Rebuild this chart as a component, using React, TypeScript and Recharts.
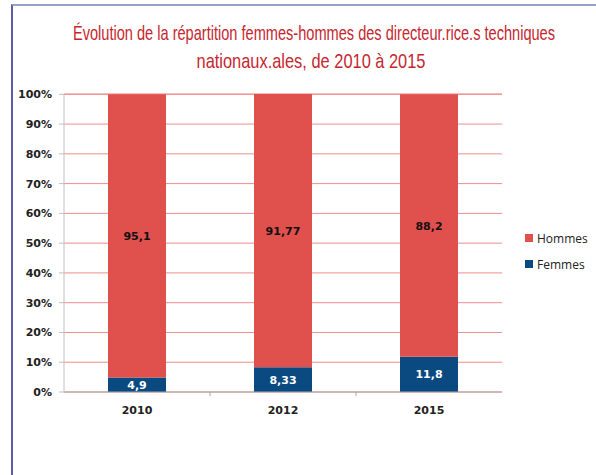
import React from "react";
import {
  BarChart,
  Bar,
  XAxis,
  YAxis,
  CartesianGrid,
  LabelList,
} from "recharts";

const YEARS = ["2010", "2012", "2015"];
const FEMMES = [4.9, 8.33, 11.8];
const HOMMES = [95.1, 91.77, 88.2];
const Y_TICKS = [0, 10, 20, 30, 40, 50, 60, 70, 80, 90, 100];
const TITLE = [
  "Évolution de la répartition femmes-hommes des directeur.rice.s techniques",
  "nationaux.ales, de 2010 à 2015",
];

const RED = "#e0504c";
const BLUE = "#0b4a80";

const data = YEARS.map((year, i) => ({
  year,
  femmes: FEMMES[i],
  hommes: HOMMES[i],
}));

const LEGEND = [
  { name: "Hommes", colour: RED },
  { name: "Femmes", colour: BLUE },
];

const fmt = (v: number) => String(v).replace(".", ",");

function makeLabel(colour: string) {
  return (props: any) => {
    const { x, y, width, height, value } = props;
    return (
      <text
        x={x + width / 2}
        y={y + height / 2}
        dy={4}
        textAnchor="middle"
        fontFamily="DejaVu Sans"
        fontWeight="bold"
        fontSize={11}
        fill={colour}
      >
        {fmt(value)}
      </text>
    );
  };
}

// category labels plus the small boundary ticks between categories
function YearTick(props: any) {
  const { x, y, payload, index } = props;
  const half = 73;
  return (
    <g>
      {index < YEARS.length - 1 && (
        <line x1={x + half} x2={x + half} y1={y - 8} y2={y - 4} stroke="#a6a6a6" />
      )}
      <text
        x={x}
        y={y + 14}
        textAnchor="middle"
        fontFamily="DejaVu Sans"
        fontWeight="bold"
        fontSize={11}
        fill="#222"
      >
        {payload.value}
      </text>
    </g>
  );
}

export default function App() {
  return (
    <div
      style={{
        position: "absolute",
        left: 0,
        top: 0,
        width: 596,
        height: 475,
        background: "#fff",
        overflow: "hidden",
      }}
    >
      <div
        style={{
          position: "absolute",
          left: 11,
          top: 4,
          right: -2,
          bottom: -2,
          borderTop: "2px solid #9c9fc6",
          borderLeft: "2px solid #5a5fa8",
        }}
      />
      <svg
        width={596}
        height={80}
        style={{ position: "absolute", left: 0, top: 0 }}
        fontFamily="'Liberation Sans', sans-serif"
        fontSize={21}
        fill="#c6262e"
      >
        <text x={314} y={40} textAnchor="middle" textLength={482} lengthAdjust="spacingAndGlyphs">
          {TITLE[0]}
        </text>
        <text x={311} y={68} textAnchor="middle" textLength={229} lengthAdjust="spacingAndGlyphs">
          {TITLE[1]}
        </text>
      </svg>
      <div style={{ position: "absolute", left: 0, top: 0 }}>
        <BarChart
          width={596}
          height={475}
          data={data}
          margin={{ top: 94, right: 94, bottom: 53, left: 14 }}
          barSize={58}
        >
          <CartesianGrid horizontal vertical={false} stroke="#ef8d8d" strokeWidth={1} />
          <XAxis
            dataKey="year"
            stroke="#a6a6a6"
            tickLine={false}
            height={30}
            tick={<YearTick />}
          />
          <YAxis
            width={50}
            domain={[0, 100]}
            ticks={Y_TICKS}
            interval={0}
            stroke="#c0c0c0"
            tickSize={5}
            tickMargin={7}
            tickFormatter={(v: number) => `${v}%`}
            tick={{ fontFamily: "DejaVu Sans", fontWeight: "bold", fontSize: 11, fill: "#222" }}
          />
          <Bar dataKey="femmes" name="Femmes" stackId="a" fill={BLUE} isAnimationActive={false}>
            <LabelList dataKey="femmes" content={makeLabel("#fff")} />
          </Bar>
          <Bar dataKey="hommes" name="Hommes" stackId="a" fill={RED} isAnimationActive={false}>
            <LabelList dataKey="hommes" content={makeLabel("#111")} />
          </Bar>
        </BarChart>
      </div>
      <div
        style={{
          position: "absolute",
          left: 525,
          top: 225,
          fontFamily: "'Open Sans', sans-serif",
          fontSize: 12,
          color: "#222",
        }}
      >
        {LEGEND.map((it) => (
          <div key={it.name} style={{ display: "flex", alignItems: "center", height: 26 }}>
            <span
              style={{
                display: "inline-block",
                width: 8,
                height: 8,
                background: it.colour,
                marginRight: 4,
              }}
            />
            {it.name}
          </div>
        ))}
      </div>
    </div>
  );
}
